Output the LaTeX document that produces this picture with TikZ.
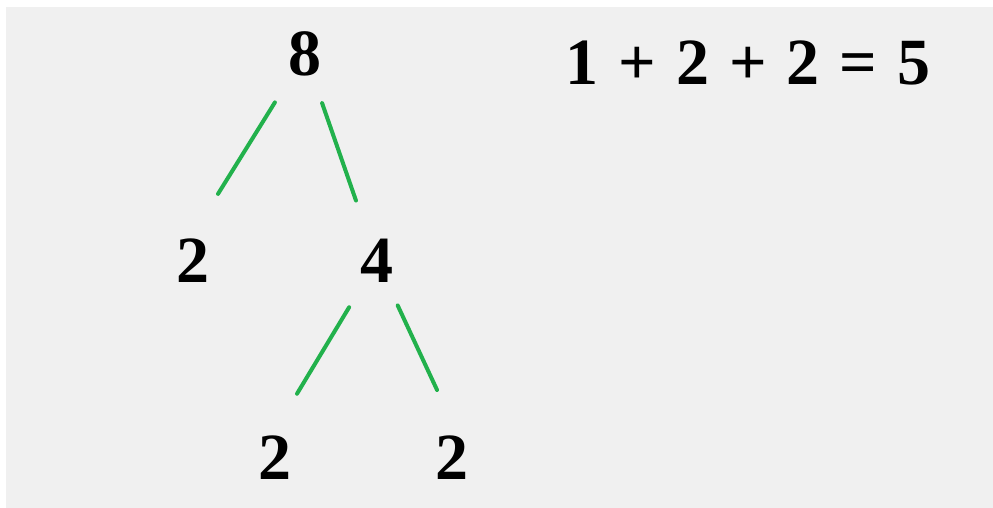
\documentclass[tikz,border=0pt]{standalone}
\usepackage{fontspec}
\setmainfont{Liberation Serif}
\usepackage{tikz}
\usetikzlibrary{positioning}

\definecolor{branchgreen}{HTML}{22B14C}
\definecolor{panelgray}{HTML}{F0F0F0}

\begin{document}
\begin{tikzpicture}[
    x=1pt, y=1pt,
    node distance=200pt,
    every node/.style={inner sep=0pt, font=\fontsize{66}{66}\selectfont\bfseries},
    branch/.style={draw=branchgreen, line width=4pt, line cap=round}
]
\useasboundingbox (0,0) rectangle (993,508);
\fill[panelgray] (6,0) rectangle (993,501);

\node (n8) at (305,454) {8};
\node (n2a) [on grid, below left=207pt and 112pt of n8] {2};
\node (n4) [on grid, below right=207pt and 72pt of n8] {4};
\node (n2b) [on grid, below left=197pt and 102pt of n4] {2};
\node (n2c) [on grid, below right=197pt and 75pt of n4] {2};
\node (sum) [on grid, right=443pt of n8, yshift=-9pt] {\spaceskip=20pt 1 + 2 + 2 = 5};

\draw[branch, shorten <=57pt, shorten >=79pt] (n8.center) -- (n2a.west);
\draw[branch, shorten <=52pt, shorten >=64pt] (n8.center) -- (n4.center);
\draw[branch, shorten <=54pt, shorten >=75pt] (n4.center) -- (n2b.west);
\draw[branch, shorten <=49pt, shorten >=75pt] (n4.center) -- (n2c.east);
\end{tikzpicture}
\end{document}
